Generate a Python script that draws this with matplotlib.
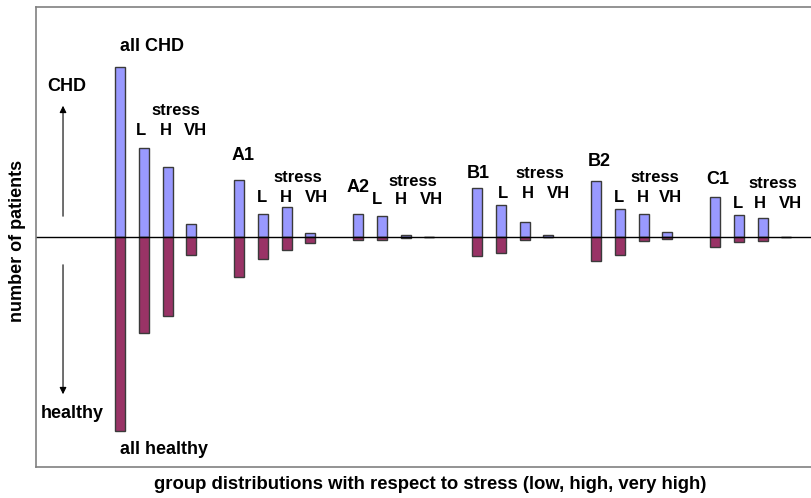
import matplotlib.pyplot as plt
import numpy as np

plt.rcParams['font.family'] = ['Liberation Sans', 'DejaVu Sans']

groups = ['all', 'A1', 'A2', 'B1', 'B2', 'C1']
stress = ['total', 'L', 'H', 'VH']
# number of patients (arbitrary units), per group: total, L, H, VH
chd = [170, 89, 70, 13,
       57, 23, 30, 4,
       23, 21, 1.5, 0,
       49, 32, 15, 1.5,
       56, 28, 23, 5,
       40, 22, 19, 0]
healthy = [194, 96, 79, 18,
           40, 22, 13, 6,
           3, 3, 1, 0,
           19, 16, 3, 0.5,
           24, 18, 4, 2,
           10, 5, 4, 0]

pos = np.array([g * 5 + k for g in range(len(groups)) for k in range(len(stress))])

fig = plt.figure(figsize=(8.11, 4.98), dpi=100)
ax = fig.add_axes([36 / 811, 31 / 498, 775 / 811, 460 / 498])

edge = '#3a3a3a'
ax.bar(pos, chd, width=0.42, color='#9999ff', edgecolor=edge, linewidth=1)
ax.bar(pos, [-h for h in healthy], width=0.42, color='#993366', edgecolor=edge, linewidth=1)
ax.axhline(0, color='black', linewidth=1)

ax.set_xlim(-3.53, 29.03)
ax.set_ylim(-230, 230)
ax.set_xticks([])
ax.set_yticks([])
for s in ['left', 'top', 'bottom']:
    ax.spines[s].set_color('#808080')
    ax.spines[s].set_linewidth(1.2)
ax.spines['right'].set_visible(False)


def px(x, y):
    # pixel position in the picture -> data coordinates
    return (x - 120) / 23.8, 237 - y


big = dict(ha='center', va='center', fontweight='bold', fontsize=13)
small = dict(ha='center', va='center', fontweight='bold', fontsize=12)

# group names
for name, x, y in [('all CHD', 152, 47), ('A1', 243, 156), ('A2', 358, 188),
                   ('B1', 478, 173), ('B2', 599, 161), ('C1', 718, 179)]:
    ax.text(*px(x, y), name, **big)
ax.text(*px(164, 449), 'all healthy', **big)

# stress labels
for sx, sy, lx, hx, vx, ly in [(176, 111, 141, 166, 195, 131),
                               (298, 178, 262, 286, 316, 198),
                               (413, 181, 377, 401, 431, 200),
                               (540, 173, 503, 528, 558, 193),
                               (655, 177, 619, 643, 670, 197),
                               (773, 184, 738, 760, 790, 203)]:
    ax.text(*px(sx, sy), 'stress', **small)
    ax.text(*px(lx, ly), 'L', **small)
    ax.text(*px(hx, ly), 'H', **small)
    ax.text(*px(vx, ly), 'VH', **small)

# direction arrows
ax.text(*px(67, 87), 'CHD', **big)
ax.text(*px(72, 413), 'healthy', **big)
ax.annotate('', xy=px(63, 103), xytext=px(63, 219),
            arrowprops=dict(arrowstyle='-|>', color='black', lw=0.8, mutation_scale=10))
ax.annotate('', xy=px(63, 397), xytext=px(63, 262),
            arrowprops=dict(arrowstyle='-|>', color='black', lw=0.8, mutation_scale=10))

fig.text(18 / 811, 1 - 241 / 498, 'number of patients', rotation=90,
         ha='center', va='center', fontweight='bold', fontsize=13)
fig.text(430 / 811, 1 - 484 / 498,
         'group distributions with respect to stress (low, high, very high)',
         ha='center', va='center', fontweight='bold', fontsize=13.3)

fig.savefig('out.png', dpi=100)
